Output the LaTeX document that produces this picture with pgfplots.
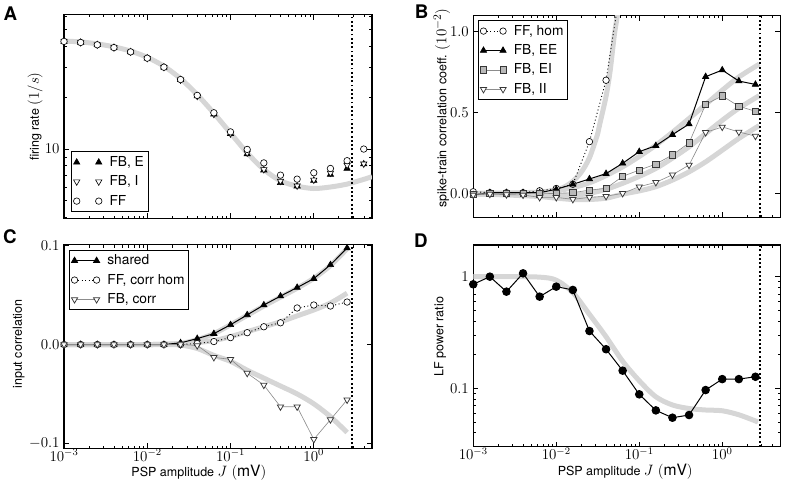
\documentclass[border=0pt]{standalone}
\usepackage{pgfplots}
\pgfplotsset{compat=1.18}
\usepackage{pgfplotstable}
\usepackage{fontspec}
\setmainfont{TeX Gyre Heros}

\definecolor{thgray}{RGB}{214,214,214}
\definecolor{sqfill}{RGB}{185,185,185}
\definecolor{lgray}{RGB}{140,140,140}
\definecolor{dgray}{RGB}{55,55,55}

\newcommand{\lblfont}{\fontsize{10.5}{12.6}\selectfont}
\newcommand{\lgfont}{\fontsize{11}{13}\selectfont}
\newcommand{\mfont}{\fontsize{12.5}{14}\selectfont}
\newcommand{\tkfont}{\fontsize{11.5}{13}\selectfont}

\pgfplotstableread{
x        fbE    fbI    ff
0.001    42.6   42.6   42.6
0.001585 42.0   42.0   42.0
0.002512 40.7   40.7   40.7
0.003981 39.2   39.2   39.2
0.00631  37.0   37.0   37.0
0.01     34.0   34.0   34.0
0.01585  30.1   30.1   30.1
0.02512  25.4   25.4   25.5
0.03981  20.4   20.4   20.6
0.0631   16.0   16.0   16.3
0.1      12.3   12.3   12.6
0.1585   9.35   9.5    9.95
0.2512   7.53   7.6    8.3
0.3981   6.35   6.5    7.04
0.631    6.07   6.1    6.67
1        6.55   6.6    7.27
1.585    7.10   7.25   7.7
2.512    7.70   8.06   8.55
3.981    8.17   8.2    10.0
}\Adata

\pgfplotstableread{
x        ee      ei      ii
0.001    -0.010  -0.005  -0.010
0.001585 0.004   0.000   -0.005
0.002512 0.004   0.000   -0.008
0.003981 0.004   0.000   -0.010
0.00631  0.004   -0.003  -0.025
0.01     0.025   0.000   -0.025
0.01585  0.056   0.004   -0.037
0.02512  0.089   0.020   -0.025
0.03981  0.122   0.031   -0.018
0.0631   0.186   0.105   0.000
0.1      0.258   0.144   0.041
0.1585   0.295   0.181   0.068
0.2512   0.363   0.238   0.115
0.3981   0.429   0.312   0.175
0.631    0.722   0.551   0.377
1        0.763   0.603   0.411
1.585    0.695   0.539   0.380
2.512    0.674   0.508   0.354
}\Bdata

\pgfplotstableread{
x        ff
0.001    0.010
0.001585 0.004
0.002512 0.004
0.003981 0.004
0.00631  0.016
0.01     0.030
0.01585  0.056
0.02512  0.320
0.03981  0.700
0.0631   1.360
}\Bff

\pgfplotstableread{
x        shared  ffhom   fb
0.001    0.0     0.0     0.0
0.001585 0.0     0.0     0.0
0.002512 0.0     0.0     0.0
0.003981 0.0     0.0     0.0
0.00631  0.0     0.0     0.0
0.01     0.0     0.0     0.0
0.01585  0.0     0.0     0.0
0.02512  0.0017  0.0     0.0
0.03981  0.006   0.001   -0.001
0.0631   0.011   0.003   -0.013
0.1      0.020   0.007   -0.015
0.1585   0.030   0.012   -0.029
0.2512   0.040   0.018   -0.041
0.3981   0.049   0.022   -0.063
0.631    0.0577  0.037   -0.063
1        0.0667  0.040   -0.096
1.585    0.0807  0.039   -0.076
2.512    0.0977  0.043   -0.056
}\Cdata

\pgfplotstableread{
x        lf
0.001    0.854
0.001585 1.000
0.002512 0.734
0.003981 1.071
0.00631  0.662
0.01     0.814
0.01585  0.760
0.02512  0.326
0.03981  0.224
0.0631   0.144
0.1      0.0884
0.1585   0.0635
0.2512   0.0546
0.3981   0.0577
0.631    0.0966
1        0.121
1.585    0.121
2.512    0.127
}\Ddata

\begin{document}
\begin{tikzpicture}
\useasboundingbox (0pt,0pt) rectangle (628.8pt,386.4pt);
\node[font=\fontsize{15}{18}\selectfont\bfseries] at (8.24pt,375.8pt) {A};
\node[font=\fontsize{15}{18}\selectfont\bfseries] at (337.4pt,377.0pt) {B};
\node[font=\fontsize{15}{18}\selectfont\bfseries] at (8.0pt,197.0pt) {C};
\node[font=\fontsize{15}{18}\selectfont\bfseries] at (336.8pt,193.8pt) {D};

% ---------------- A
\begin{axis}[at={(51.2pt,211.8pt)}, anchor=south west,
  scale only axis, width=246.4pt, height=162.8pt,
  xmode=log, xmin=0.001, xmax=5,
  axis line style={line width=1.1pt},
  major tick length=4pt, minor tick length=2.2pt,
  tick style={black, line width=0.6pt},
  tick label style={font=\tkfont},
  label style={font=\lblfont},
  every axis y label/.style={at={(axis description cs:-0.094,0.5)}, rotate=90, anchor=center},
  legend cell align=left,
  legend style={draw=black, line width=0.8pt, font=\lgfont, fill=white,
    row sep=2pt, column sep=4pt, inner sep=1.5pt, at={(0.023,0.031)}, anchor=south west},
  legend image code/.code={\draw[#1] plot coordinates {(0cm,0cm) (0.62cm,0cm)};},
  ymode=log, ymin=3.94, ymax=61, ytick={10}, yticklabels={$10$},
  minor ytick={4,5,6,7,8,9,20,30,40,50,60},
  xticklabels={},
  ylabel={firing rate {\mfont$(1/s)$}}]
\addplot[color=thgray, line width=4pt, no markers, smooth, forget plot] coordinates {(0.001,42.8) (0.001585,42.3) (0.002512,41.2) (0.003981,39.6) (0.00631,37.4) (0.01,34.4) (0.01585,30.5) (0.02512,25.8) (0.03981,20.8) (0.0631,16.2) (0.1,12.4) (0.1585,9.5) (0.2512,7.6) (0.3981,6.52) (0.631,6.07) (1,5.88) (1.585,6.0) (2.512,6.24) (3.981,6.65) (5,6.9)};
\addplot[black, line width=1.5pt, dash pattern=on 1.5pt off 1.9pt, forget plot] coordinates {(2.85,3.94) (2.85,61)};
\addplot[only marks, mark=triangle*, mark size=2.9pt, mark options={fill=black, draw=black, line width=0.5pt}] table[x=x,y=fbE] {\Adata};
\addlegendentry{FB, E}
\addplot[only marks, mark=triangle*, mark size=2.9pt, mark options={rotate=180, fill=white, draw=black, line width=0.5pt}] table[x=x,y=fbI] {\Adata};
\addlegendentry{FB, I}
\addplot[only marks, mark=*, mark size=2.6pt, mark options={fill=white, draw=black, line width=0.5pt}] table[x=x,y=ff] {\Adata};
\addlegendentry{FF}
\end{axis}

% ---------------- B
\begin{axis}[at={(378.6pt,212.6pt)}, anchor=south west,
  scale only axis, width=245.6pt, height=161.3pt,
  xmode=log, xmin=0.001, xmax=5,
  axis line style={line width=1.1pt},
  major tick length=4pt, minor tick length=2.2pt,
  tick style={black, line width=0.6pt},
  tick label style={font=\tkfont},
  label style={font=\lblfont},
  every axis y label/.style={at={(axis description cs:-0.102,0.542)}, rotate=90, anchor=center},
  legend cell align=left,
  legend style={draw=black, line width=0.8pt, font=\lgfont, fill=white,
    row sep=2pt, column sep=4pt, inner sep=1.5pt, at={(0.015,0.977)}, anchor=north west},
  legend image code/.code={\draw[#1] plot coordinates {(0cm,0cm) (0.55cm,0cm)};},
  ymin=-0.148, ymax=1.1, ytick={0,0.5,1}, yticklabels={$0.0$,$0.5$,$1.0$},
  xticklabels={},
  ylabel={spike-train correlation coeff. {\mfont$(10^{-2})$}}]
\addplot[color=thgray, line width=4pt, no markers, smooth, forget plot] coordinates {(0.001,0) (0.002512,0.002) (0.00631,0.008) (0.01,0.022) (0.01259,0.04) (0.01585,0.075) (0.01995,0.13) (0.02512,0.22) (0.03162,0.37) (0.0335,0.43) (0.03981,0.6) (0.04467,0.76) (0.05012,0.98) (0.05623,1.15) (0.0631,1.4)};
\addplot[color=thgray, line width=4pt, no markers, smooth, forget plot] coordinates {(0.001,0.0) (0.002512,0.0) (0.00631,0.005) (0.01,0.015) (0.01585,0.035) (0.02512,0.065) (0.03981,0.11) (0.0631,0.164) (0.1,0.228) (0.1585,0.298) (0.2512,0.378) (0.3981,0.463) (0.631,0.55) (1,0.638) (1.585,0.72) (2.8,0.80)};
\addplot[color=thgray, line width=4pt, no markers, smooth, forget plot] coordinates {(0.001,-0.003) (0.002512,-0.005) (0.00631,-0.01) (0.01,-0.015) (0.01585,-0.012) (0.02512,0.0) (0.03981,0.025) (0.0631,0.062) (0.1,0.105) (0.1585,0.154) (0.2512,0.218) (0.3981,0.288) (0.631,0.37) (1,0.452) (1.585,0.527) (2.8,0.605)};
\addplot[color=thgray, line width=4pt, no markers, smooth, forget plot] coordinates {(0.001,-0.005) (0.002512,-0.01) (0.00631,-0.02) (0.01,-0.03) (0.01585,-0.038) (0.02512,-0.038) (0.03981,-0.03) (0.0631,-0.005) (0.1,0.015) (0.1585,0.041) (0.2512,0.082) (0.3981,0.133) (0.631,0.195) (1,0.267) (1.585,0.34) (2.8,0.42)};
\addplot[black, line width=1.5pt, dash pattern=on 1.5pt off 1.9pt, forget plot] coordinates {(2.85,-0.148) (2.85,1.1)};
\addplot[black, line width=0.7pt, dash pattern=on 0.8pt off 2pt, mark=*, mark size=2.6pt, mark options={solid, fill=white, draw=black, line width=0.5pt}] table[x=x,y=ff] {\Bff};
\addlegendentry{FF, hom}
\addplot[black, line width=0.8pt, mark=triangle*, mark size=2.9pt, mark options={solid, fill=black, draw=black, line width=0.5pt}] table[x=x,y=ee] {\Bdata};
\addlegendentry{FB, EE}
\addplot[lgray, line width=0.5pt, mark=square*, mark size=2.5pt, mark options={solid, fill=sqfill, draw=dgray, line width=0.6pt}] table[x=x,y=ei] {\Bdata};
\addlegendentry{FB, EI}
\addplot[lgray, line width=0.5pt, mark=triangle*, mark size=2.9pt, mark options={solid, rotate=180, fill=white, draw=dgray, line width=0.6pt}] table[x=x,y=ii] {\Bdata};
\addlegendentry{FB, II}
\end{axis}

% ---------------- C
\begin{axis}[at={(51.2pt,27.8pt)}, anchor=south west,
  scale only axis, width=246.4pt, height=162.8pt,
  xmode=log, xmin=0.001, xmax=5,
  axis line style={line width=1.1pt},
  major tick length=4pt, minor tick length=2.2pt,
  tick style={black, line width=0.6pt},
  tick label style={font=\tkfont},
  xticklabel style={inner sep=0.8pt},
  label style={font=\lblfont},
  every axis y label/.style={at={(axis description cs:-0.147,0.511)}, rotate=90, anchor=center},
  every axis x label/.style={at={(axis description cs:0.438,0)}, anchor=north, inner sep=0pt, yshift=-13pt},
  legend cell align=left,
  legend style={draw=black, line width=0.8pt, font=\lgfont, fill=white,
    row sep=2pt, column sep=4pt, inner sep=1.5pt, at={(0.016,0.975)}, anchor=north west},
  legend image code/.code={\draw[#1] plot coordinates {(0cm,0cm) (0.62cm,0cm)};},
  ymin=-0.105, ymax=0.101, ytick={-0.1,0,0.1}, yticklabels={$-0.1$,$0.0$,$0.1$},
  ylabel={input correlation},
  xlabel={PSP amplitude {\mfont$J$ $(\mathrm{mV})$}}]
\addplot[color=thgray, line width=4pt, no markers, smooth, forget plot] coordinates {(0.001,0) (0.01,0) (0.01585,0.0003) (0.02512,0.001) (0.03981,0.005) (0.0631,0.011) (0.1,0.020) (0.1585,0.0295) (0.2512,0.039) (0.3981,0.048) (0.631,0.057) (1,0.067) (1.585,0.080) (2.512,0.097)};
\addplot[color=thgray, line width=4pt, no markers, smooth, forget plot] coordinates {(0.001,0) (0.01,0) (0.01585,0.0003) (0.02512,0.001) (0.03981,0.002) (0.0631,0.004) (0.1,0.008) (0.1585,0.013) (0.2512,0.018) (0.3981,0.023) (0.631,0.029) (1,0.035) (1.585,0.042) (2.512,0.052)};
\addplot[color=thgray, line width=4pt, no markers, smooth, forget plot] coordinates {(0.001,0) (0.01,0) (0.01585,0) (0.02512,-0.0005) (0.03981,-0.004) (0.0631,-0.011) (0.1,-0.017) (0.1585,-0.026) (0.2512,-0.034) (0.3981,-0.042) (0.631,-0.050) (1,-0.060) (1.585,-0.073) (2.512,-0.089)};
\addplot[black, line width=1.5pt, dash pattern=on 1.5pt off 1.9pt, forget plot] coordinates {(2.85,-0.105) (2.85,0.101)};
\addplot[black, line width=0.8pt, mark=triangle*, mark size=2.9pt, mark options={solid, fill=black, draw=black, line width=0.5pt}] table[x=x,y=shared] {\Cdata};
\addlegendentry{shared}
\addplot[black, line width=0.7pt, dash pattern=on 0.8pt off 2pt, mark=*, mark size=2.6pt, mark options={solid, fill=white, draw=black, line width=0.5pt}] table[x=x,y=ffhom] {\Cdata};
\addlegendentry{FF, corr hom}
\addplot[lgray, line width=0.5pt, mark=triangle*, mark size=2.9pt, mark options={solid, rotate=180, fill=white, draw=dgray, line width=0.6pt}] table[x=x,y=fb] {\Cdata};
\addlegendentry{FB, corr}
\end{axis}

% ---------------- D
\begin{axis}[at={(378.6pt,29.0pt)}, anchor=south west,
  scale only axis, width=245.6pt, height=161.4pt,
  xmode=log, xmin=0.001, xmax=5,
  axis line style={line width=1.1pt},
  major tick length=4pt, minor tick length=2.2pt,
  tick style={black, line width=0.6pt},
  tick label style={font=\tkfont},
  xticklabel style={inner sep=0.8pt},
  label style={font=\lblfont},
  every axis y label/.style={at={(axis description cs:-0.108,0.545)}, rotate=90, anchor=center},
  every axis x label/.style={at={(axis description cs:0.495,0)}, anchor=north, inner sep=0pt, yshift=-14pt},
  ymode=log, ymin=0.03, ymax=1.92, ytick={0.1,1}, yticklabels={$0.1$,$1$},
  minor ytick={0.03,0.04,0.05,0.06,0.07,0.08,0.09,0.2,0.3,0.4,0.5,0.6,0.7,0.8,0.9},
  ylabel={LF power ratio},
  xlabel={PSP amplitude {\mfont$J$ $(\mathrm{mV})$}}]
\addplot[color=thgray, line width=4pt, no markers, smooth, forget plot] coordinates {(0.001,1.0) (0.002512,1.0) (0.00631,0.99) (0.01,0.93) (0.01585,0.72) (0.02512,0.46) (0.03981,0.29) (0.0631,0.175) (0.1,0.117) (0.1585,0.084) (0.2512,0.071) (0.3981,0.066) (0.631,0.064) (1,0.063) (1.585,0.058) (2.7,0.05)};
\addplot[black, line width=1.5pt, dash pattern=on 1.5pt off 1.9pt, forget plot] coordinates {(2.85,0.03) (2.85,1.92)};
\addplot[black, line width=0.8pt, mark=*, mark size=3pt, mark options={solid, fill=black}] table[x=x,y=lf] {\Ddata};
\end{axis}
\end{tikzpicture}
\end{document}
